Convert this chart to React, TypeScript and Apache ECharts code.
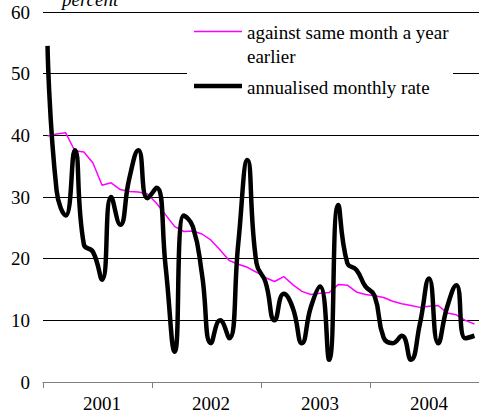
import React, { useEffect, useRef } from "react";
import * as echarts from "echarts";

const years = ["2001", "2002", "2003", "2004"];
const monthNames = ["Jan", "Feb", "Mar", "Apr", "May", "Jun", "Jul", "Aug", "Sep", "Oct", "Nov", "Dec"];
const categories: string[] = [];
years.forEach((y) => monthNames.forEach((m) => categories.push(m + " " + y)));

const yearOnYear = [
  39.9, 40.2, 40.4, 37.5, 37.3, 35.5, 31.9, 32.3, 31.2, 30.9, 30.8, 30.5,
  29.0, 27.1, 25.2, 24.4, 24.5, 24.0, 23.0, 21.4, 19.7, 19.1, 18.6, 17.8,
  16.9, 16.3, 17.1, 15.8, 14.7, 14.2, 14.4, 14.5, 15.8, 15.7, 14.6, 14.2,
  14.0, 13.7, 13.1, 12.7, 12.4, 12.1, 12.3, 12.4, 11.2, 10.9, 10.0, 9.4,
];

const annualisedMonthly = [
  54.5, 31.0, 27.0, 37.6, 22.3, 21.1, 16.6, 30.0, 25.5, 33.0, 37.6, 29.8,
  31.5, 18.7, 4.9, 27.0, 25.2, 17.5, 6.3, 10.0, 7.1, 22.5, 36.0, 19.3,
  16.2, 10.0, 14.3, 12.0, 6.3, 12.2, 15.5, 3.6, 28.7, 19.3, 18.2, 15.5,
  14.0, 7.2, 6.3, 7.5, 3.6, 9.5, 16.8, 6.3, 12.2, 15.7, 7.1, 7.5,
];

const seriesNames = ["against same month a year\nearlier", "annualised monthly rate"];
const unitLabel = "percent";

const FONT = "Liberation Serif";

export default function App() {
  const ref = useRef<HTMLDivElement>(null);
  useEffect(() => {
    if (!ref.current) return;
    const chart = echarts.init(ref.current, undefined, { renderer: "svg" });
    chart.setOption({
      animation: false,
      backgroundColor: "#fff",
      textStyle: { fontFamily: FONT },
      grid: { left: 43, right: -4, top: 12, bottom: 33, containLabel: false },
      xAxis: {
        type: "category",
        data: categories,
        boundaryGap: true,
        axisLine: { show: true, lineStyle: { color: "#808080", width: 1 } },
        axisTick: {
          show: true,
          inside: false,
          length: 6,
          interval: (i: number) => i % 12 === 0,
          lineStyle: { color: "#808080" },
        },
        axisLabel: {
          interval: (i: number) => i % 12 === 6,
          formatter: (v: string) => v.split(" ")[1],
          color: "#000",
          fontFamily: FONT,
          fontSize: 19,
          margin: 12,
        },
        splitLine: { show: false },
      },
      yAxis: {
        type: "value",
        min: 0,
        max: 60,
        interval: 10,
        axisLine: { show: false },
        axisTick: { show: false },
        axisLabel: { color: "#000", fontFamily: FONT, fontSize: 19, margin: 13 },
        splitLine: { show: true, lineStyle: { color: "#000", width: 1 } },
      },
      series: [
        {
          name: seriesNames[0],
          type: "line",
          data: yearOnYear,
          symbol: "none",
          lineStyle: { color: "#FF00FF", width: 1.5 },
          z: 2,
        },
        {
          name: seriesNames[1],
          type: "line",
          data: annualisedMonthly,
          symbol: "none",
          smooth: 0.5,
          lineStyle: { color: "#000", width: 4.5 },
          z: 3,
        },
      ],
      graphic: [
        {
          type: "text",
          left: 62,
          top: -10,
          style: { text: unitLabel, fontFamily: FONT, fontStyle: "italic", fontSize: 19, fill: "#000" },
        },
        {
          type: "rect",
          shape: { x: 187, y: 18, width: 266, height: 85 },
          style: { fill: "#fff" },
          z: 10,
        },
        {
          type: "line",
          shape: { x1: 194, y1: 31.5, x2: 242, y2: 31.5 },
          style: { stroke: "#FF00FF", lineWidth: 1.5 },
          z: 11,
        },
        {
          type: "text",
          left: 247,
          top: 20,
          style: {
            text: seriesNames[0],
            fontFamily: FONT,
            fontSize: 19,
            lineHeight: 24,
            fill: "#000",
          },
          z: 11,
        },
        {
          type: "line",
          shape: { x1: 194, y1: 86, x2: 242, y2: 86 },
          style: { stroke: "#000", lineWidth: 4.5 },
          z: 11,
        },
        {
          type: "text",
          left: 247,
          top: 78,
          style: { text: seriesNames[1], fontFamily: FONT, fontSize: 19, fill: "#000" },
          z: 11,
        },
      ],
    });
    return () => chart.dispose();
  }, []);
  return <div ref={ref} style={{ width: 479, height: 415, position: "absolute", left: 0, top: 0 }} />;
}
